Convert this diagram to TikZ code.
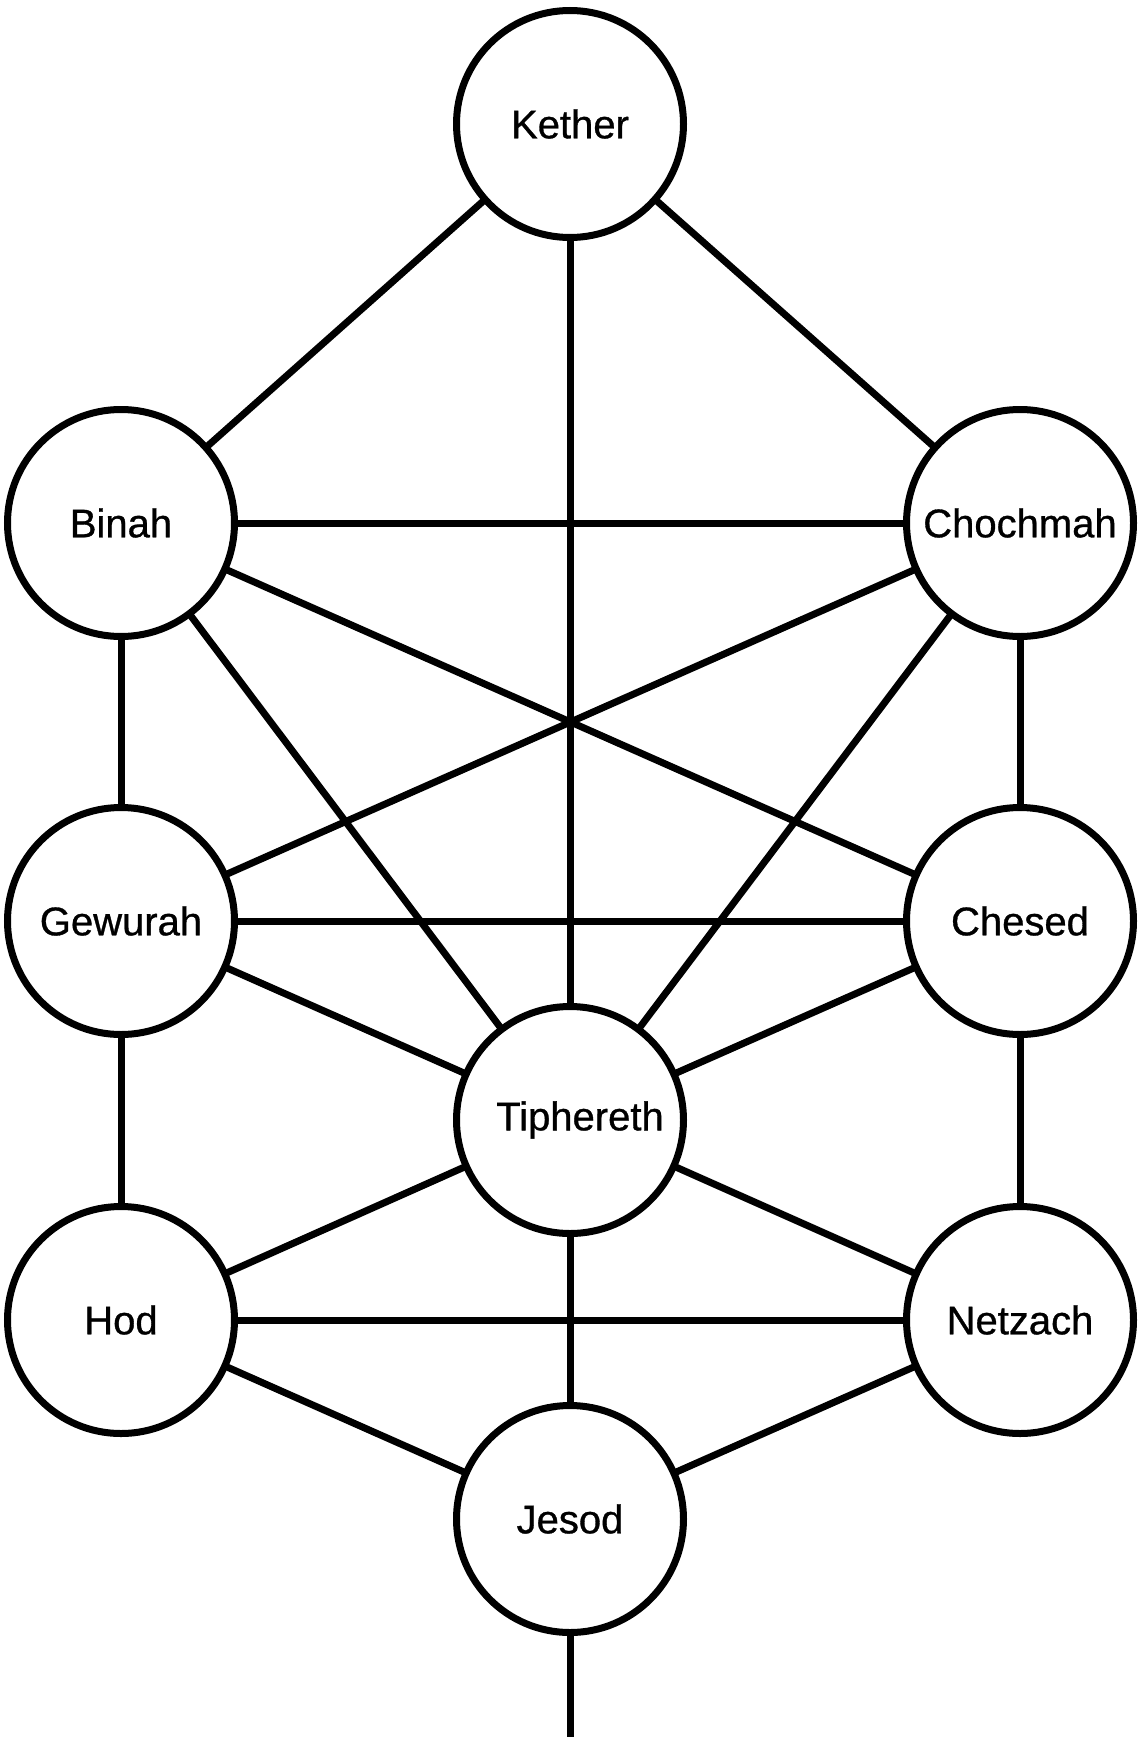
\documentclass[tikz,border=0pt]{standalone}
\usepackage{fontspec}
\setmainfont{Liberation Sans}
\newfontfamily\sephfont[FakeBold=0.8]{Liberation Sans}
\begin{document}
\begin{tikzpicture}[x=1pt,y=-1pt,
  sephira/.style={circle, draw=black, fill=white, line width=7pt, minimum size=227pt, inner sep=0pt, font=\sephfont\fontsize{40}{48}\selectfont},
  path/.style={draw=black, line width=7pt}]
\useasboundingbox (0,0) rectangle (1142,1737);
\fill[white] (0,0) rectangle (1142,1737);
% node positions
\coordinate (pK) at (570,124);
\coordinate (pB) at (121,523);
\coordinate (pC) at (1020,523);
\coordinate (pG) at (121,921);
\coordinate (pH) at (1020,921);
\coordinate (pT) at (570,1120);
\coordinate (pO) at (121,1320);
\coordinate (pN) at (1020,1320);
\coordinate (pJ) at (570,1519);
\coordinate (bottom) at (570,1737);
% connectors (drawn center to center, circles cover them)
\foreach \a/\b in {pK/pB,pK/pC,pK/pT,pB/pC,pB/pG,pC/pH,pB/pH,pC/pG,pB/pT,pC/pT,
                   pG/pH,pG/pT,pH/pT,pG/pO,pH/pN,pT/pO,pT/pN,pO/pN,pT/pJ,pO/pJ,pN/pJ,pJ/bottom}
  \draw[path] (\a) -- (\b);
% sephiroth
\node[sephira] (kether) at (pK) {Kether};
\node[sephira] (binah) at (pB) {Binah};
\node[sephira] (chochmah) at (pC) {Chochmah};
\node[sephira] (gewurah) at (pG) {Gewurah};
\node[sephira] (chesed) at (pH) {Chesed};
\node[sephira] (tiphereth) at (pT) {\hspace*{20pt}Tiphereth};
\node[sephira] (hod) at (pO) {Hod};
\node[sephira] (netzach) at (pN) {Netzach};
\node[sephira] (jesod) at (pJ) {Jesod};
\end{tikzpicture}
\end{document}
